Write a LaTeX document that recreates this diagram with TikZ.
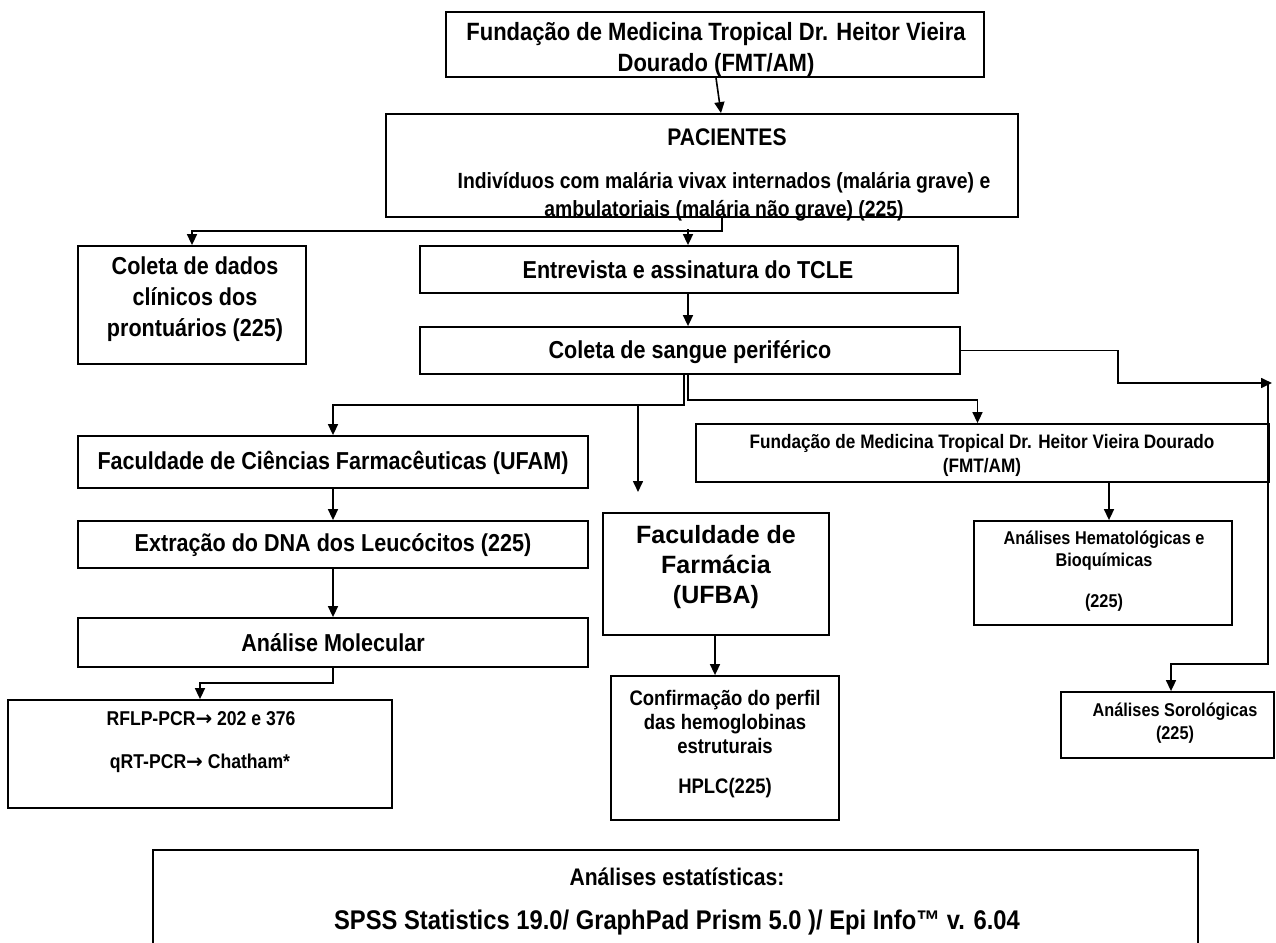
\documentclass[tikz,border=0pt]{standalone}
\usepackage{fontspec}
\setmainfont{Liberation Sans}
\newfontfamily\cf{Liberation Sans}[FakeStretch=0.88]
\newfontfamily\arrfont{DejaVu Sans}
\usetikzlibrary{arrows.meta}
\newcommand\setfs[2]{\fontsize{#1}{#2}\selectfont}
\tikzset{
  box/.style={draw, line width=1.8pt, inner sep=0pt},
  lbl/.style={inner sep=0pt, align=center},
  arr/.style={line width=1.6pt, -{Triangle[length=11pt,width=10pt]}},
}
\begin{document}
\begin{tikzpicture}[x=1pt,y=-1pt]
\useasboundingbox (0,0) rectangle (1276,942);

% boxes
\node[box, minimum width=538pt, minimum height=65pt] (top) at (715,44.5) {};
\node[box, minimum width=632pt, minimum height=103pt] (pac) at (702,165.5) {};
\node[box, minimum width=228pt, minimum height=118pt] (dados) at (192,305) {};
\node[box, minimum width=538pt, minimum height=47pt] (entr) at (689,269.5) {};
\node[box, minimum width=540pt, minimum height=47pt] (sangue) at (690,350.5) {};
\node[box, minimum width=510pt, minimum height=52pt] (fac) at (333,462) {};
\node[box, minimum width=510pt, minimum height=47pt] (ext) at (333,544.5) {};
\node[box, minimum width=510pt, minimum height=49pt] (mol) at (333,642.5) {};
\node[box, minimum width=384pt, minimum height=108pt] (rflp) at (200,754) {};
\node[box, minimum width=226pt, minimum height=122pt] (ufba) at (716,574) {};
\node[box, minimum width=228pt, minimum height=144pt] (conf) at (725,748) {};
\node[box, minimum width=573pt, minimum height=58pt] (fmt2) at (982.5,453) {};
\node[box, minimum width=258pt, minimum height=104pt] (hemat) at (1103,573) {};
\node[box, minimum width=213pt, minimum height=66pt] (soro) at (1167.5,725) {};
\node[box, minimum width=1045pt, minimum height=130pt] (stat) at (675.5,915) {};

% texts
\node[lbl, font={\cf\bfseries\setfs{25}{31}}] (topt) at (716,50) {Fundação de Medicina Tropical Dr. Heitor Vieira\\Dourado (FMT/AM)};
\node[lbl, font={\cf\bfseries\setfs{24}{28}}] (pact1) at (727,137) {PACIENTES};
\node[lbl, font={\cf\bfseries\setfs{22}{28}}] (pact2) at (724,197) {Indivíduos com malária vivax internados (malária grave) e\\ambulatoriais (malária não grave) (225)};
\node[lbl, font={\cf\bfseries\setfs{24.5}{31}}] (dadost) at (195,299) {Coleta de dados\\clínicos dos\\prontuários (225)};
\node[lbl, font={\cf\bfseries\setfs{24.5}{30}}] (entrt) at (688,270) {Entrevista e assinatura do TCLE};
\node[lbl, font={\cf\bfseries\setfs{24.5}{30}}] (sanguet) at (690,352) {Coleta de sangue periférico};
\node[lbl, font={\cf\bfseries\setfs{24.5}{30}}] (fact) at (333,463) {Faculdade de Ciências Farmacêuticas (UFAM)};
\node[lbl, font={\cf\bfseries\setfs{24.5}{30}}] (extt) at (333,545) {Extração do DNA dos Leucócitos (225)};
\node[lbl, font={\cf\bfseries\setfs{24.5}{30}}] (molt) at (333,643) {Análise Molecular};
\node[lbl, font={\cf\bfseries\setfs{20}{24}}] (rflpt1) at (201,719) {RFLP-PCR{\arrfont\bfseries →} 202 e 376};
\node[lbl, font={\cf\bfseries\setfs{20}{24}}] (rflpt2) at (200,763) {qRT-PCR{\arrfont\bfseries →} Chatham*};
\node[lbl, font={\bfseries\setfs{25}{30}}] (ufbat) at (716,567) {Faculdade de\\Farmácia\\(UFBA)};
\node[lbl, font={\cf\bfseries\setfs{21}{24}}] (conft1) at (725,722) {Confirmação do perfil\\das hemoglobinas\\estruturais};
\node[lbl, font={\cf\bfseries\setfs{21}{24}}] (conft2) at (725,788) {HPLC(225)};
\node[lbl, font={\cf\bfseries\setfs{19.5}{24}}] (fmt2t) at (982,455) {Fundação de Medicina Tropical Dr. Heitor Vieira Dourado\\(FMT/AM)};
\node[lbl, font={\cf\bfseries\setfs{18.5}{22}}] (hematt1) at (1104,551) {Análises Hematológicas e\\Bioquímicas};
\node[lbl, font={\cf\bfseries\setfs{18.5}{22}}] (hematt2) at (1104,603) {(225)};
\node[lbl, font={\cf\bfseries\setfs{18.5}{23}}] (sorot) at (1175,723.5) {Análises Sorológicas\\(225)};
\node[lbl, font={\cf\bfseries\setfs{24}{28}}] (statt1) at (677,877) {Análises estatísticas:};
\node[lbl, font={\cf\bfseries\setfs{27}{30}}] (statt2) at (677,923) {SPSS Statistics 19.0/ GraphPad Prism 5.0 )/ Epi Info™ v. 6.04};

% connectors
\draw[arr] ([xshift=1pt]top.south) -- ([xshift=19pt]pac.north);
\draw[arr] ([xshift=20pt]pac.south) -- ++(0,13) -| (dados.north);
\draw[arr] ([xshift=-1pt,yshift=16pt]entr.north) -- ([xshift=-1pt]entr.north);
\draw[arr] ([xshift=-1pt]entr.south) -- ([xshift=-2pt]sangue.north);
\draw[arr] ([xshift=-6pt]sangue.south) -- ++(0,30) -| (fac.north);
\draw[arr] ([xshift=-2pt]sangue.south) -- ++(0,25) -| ([xshift=-5pt]fmt2.north);
\coordinate (u0) at (638,404);
\coordinate (u1) at (638,492);
\draw[arr] (u0) -- (u1);
\coordinate (r1) at (1272,383);
\coordinate (r2) at (1268,383);
\draw[arr] (sangue.east) -- ++(157,0) |- (r1);
\draw[arr] (r2) |- ([xshift=3.5pt,yshift=27pt]soro.north) -- ([xshift=3.5pt]soro.north);
\coordinate (h0) at ([xshift=6pt]hemat.north);
\draw[arr] (h0 |- fmt2.south) -- (h0);
\draw[arr] (fac.south) -- (ext.north);
\draw[arr] (ext.south) -- (mol.north);
\draw[arr] (mol.south) -- ++(0,15) -| (rflp.north);
\draw[arr] ([xshift=-1pt]ufba.south) -- ([xshift=-10pt]conf.north);
\end{tikzpicture}
\end{document}
